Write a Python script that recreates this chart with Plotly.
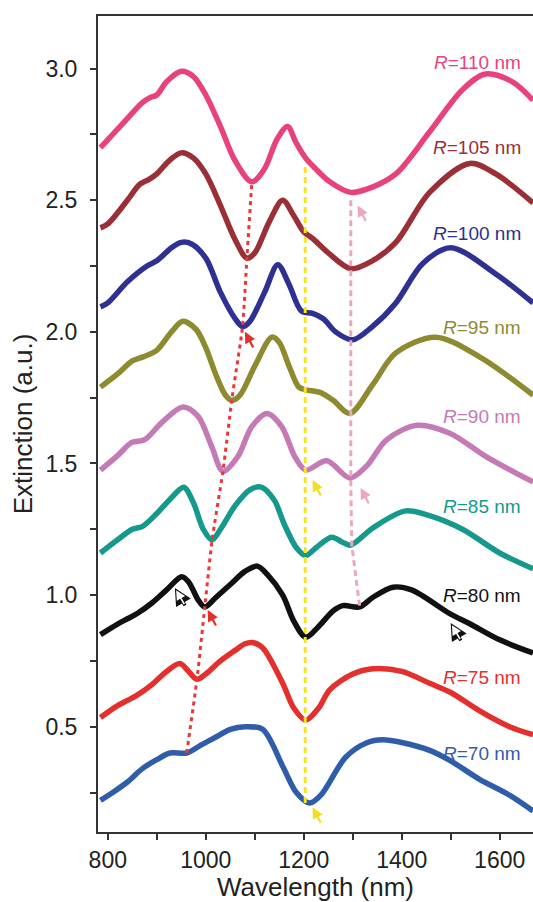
import plotly.graph_objects as go

# ---------------- data ----------------
labels = ["R=110 nm", "R=105 nm", "R=100 nm", "R=95 nm", "R=90 nm",
          "R=85 nm", "R=80 nm", "R=75 nm", "R=70 nm"]
colors = ["#E8427E", "#9A2F36", "#2E3192", "#8E8A30", "#C47AB5",
          "#14998C", "#111111", "#E4302D", "#2F5DAA"]

wl_110 = [785, 830, 870, 886, 900, 920, 950, 975, 1000, 1030, 1060, 1094, 1120, 1145, 1167, 1184, 1204, 1224, 1253, 1296, 1340, 1388, 1457, 1524, 1571, 1626, 1668]
ex_110 = [2.70, 2.79, 2.87, 2.89, 2.90, 2.95, 2.99, 2.97, 2.90, 2.78, 2.65, 2.57, 2.62, 2.73, 2.78, 2.72, 2.66, 2.62, 2.57, 2.53, 2.55, 2.60, 2.76, 2.92, 2.98, 2.95, 2.88]

wl_105 = [785, 800, 840, 865, 885, 900, 925, 950, 975, 1000, 1030, 1060, 1084, 1100, 1130, 1157, 1180, 1200, 1218, 1250, 1296, 1340, 1388, 1457, 1539, 1592, 1668]
ex_105 = [2.395, 2.41, 2.50, 2.56, 2.58, 2.60, 2.65, 2.68, 2.66, 2.60, 2.48, 2.35, 2.28, 2.30, 2.42, 2.50, 2.44, 2.38, 2.355, 2.30, 2.24, 2.27, 2.34, 2.53, 2.64, 2.60, 2.49]

wl_100 = [785, 800, 840, 880, 900, 930, 950, 970, 1000, 1030, 1060, 1075, 1090, 1120, 1147, 1170, 1195, 1218, 1240, 1265, 1300, 1340, 1388, 1443, 1500, 1592, 1668]
ex_100 = [2.095, 2.11, 2.19, 2.25, 2.27, 2.32, 2.34, 2.335, 2.28, 2.15, 2.05, 2.02, 2.04, 2.15, 2.255, 2.18, 2.08, 2.07, 2.05, 2.00, 1.97, 2.02, 2.11, 2.26, 2.32, 2.22, 2.11]

wl_95 = [785, 820, 850, 872, 900, 930, 953, 980, 1000, 1020, 1040, 1053, 1070, 1100, 1135, 1150, 1170, 1190, 1205, 1233, 1260, 1294, 1341, 1388, 1469, 1559, 1668]
ex_95 = [1.79, 1.84, 1.89, 1.905, 1.93, 2.00, 2.04, 2.01, 1.94, 1.84, 1.76, 1.74, 1.76, 1.87, 1.98, 1.96, 1.87, 1.79, 1.78, 1.77, 1.74, 1.69, 1.80, 1.92, 1.98, 1.905, 1.76]

wl_90 = [785, 820, 849, 875, 910, 953, 984, 1012, 1035, 1065, 1094, 1125, 1155, 1182, 1204, 1247, 1294, 1328, 1369, 1431, 1498, 1573, 1668]
ex_90 = [1.475, 1.53, 1.58, 1.59, 1.655, 1.715, 1.68, 1.565, 1.47, 1.525, 1.64, 1.69, 1.64, 1.525, 1.475, 1.51, 1.445, 1.49, 1.59, 1.645, 1.615, 1.525, 1.43]

wl_85 = [785, 820, 850, 870, 900, 930, 955, 975, 995, 1013, 1030, 1060, 1090, 1113, 1140, 1160, 1185, 1204, 1225, 1257, 1280, 1296, 1341, 1408, 1460, 1524, 1600, 1668]
ex_85 = [1.16, 1.21, 1.25, 1.26, 1.31, 1.37, 1.41, 1.35, 1.25, 1.21, 1.25, 1.34, 1.40, 1.41, 1.36, 1.27, 1.18, 1.15, 1.18, 1.22, 1.20, 1.19, 1.255, 1.32, 1.30, 1.25, 1.16, 1.10]

wl_80 = [785, 820, 840, 860, 890, 920, 951, 965, 985, 998, 1020, 1050, 1080, 1105, 1125, 1157, 1180, 1204, 1230, 1260, 1280, 1314, 1340, 1382, 1420, 1498, 1540, 1600, 1668]
ex_80 = [0.85, 0.89, 0.91, 0.93, 0.97, 1.02, 1.07, 1.05, 0.98, 0.955, 0.99, 1.04, 1.09, 1.11, 1.08, 1.00, 0.90, 0.84, 0.88, 0.94, 0.96, 0.955, 0.99, 1.03, 1.02, 0.93, 0.89, 0.83, 0.78]

wl_75 = [785, 820, 840, 860, 890, 920, 947, 965, 982, 1000, 1030, 1060, 1080, 1095, 1116, 1157, 1180, 1204, 1230, 1253, 1300, 1341, 1400, 1457, 1500, 1559, 1620, 1668]
ex_75 = [0.535, 0.58, 0.60, 0.62, 0.66, 0.71, 0.74, 0.71, 0.68, 0.70, 0.75, 0.79, 0.815, 0.82, 0.80, 0.665, 0.57, 0.525, 0.57, 0.64, 0.70, 0.72, 0.71, 0.665, 0.63, 0.56, 0.50, 0.47]

wl_70 = [785, 810, 840, 870, 900, 927, 961, 990, 1020, 1050, 1080, 1116, 1157, 1185, 1212, 1235, 1286, 1330, 1361, 1400, 1457, 1500, 1559, 1620, 1668]
ex_70 = [0.22, 0.25, 0.29, 0.34, 0.375, 0.40, 0.40, 0.43, 0.46, 0.49, 0.50, 0.49, 0.35, 0.25, 0.21, 0.24, 0.385, 0.44, 0.45, 0.44, 0.41, 0.37, 0.30, 0.24, 0.18]

series_wl = [wl_110, wl_105, wl_100, wl_95, wl_90, wl_85, wl_80, wl_75, wl_70]
series_ex = [ex_110, ex_105, ex_100, ex_95, ex_90, ex_85, ex_80, ex_75, ex_70]

# guide lines through the resonance dips
red_wl = [961, 982, 998, 1013, 1035, 1053, 1075, 1084, 1094]
red_ex = [0.40, 0.68, 0.955, 1.21, 1.47, 1.74, 2.02, 2.28, 2.57]
yel_wl = [1203, 1203]
yel_ex = [0.21, 2.64]
pink_wl = [1296, 1296, 1298, 1314]
pink_ex = [2.50, 1.44, 1.19, 0.96]

# label anchor positions (right edge) in data coords
label_x = 1647
label_y = [3.023, 2.70, 2.373, 2.015, 1.677, 1.335, 1.0, 0.688, 0.40]

x_ticks = [800, 1000, 1200, 1400, 1600]
y_ticks = [0.5, 1.0, 1.5, 2.0, 2.5, 3.0]

# arrows: (head_x, head_y, color, hollow)  -- tail offset down-right in pixels
arrows = [
    (1080, 2.00, "#E4302D", False),
    (1004, 0.943, "#E4302D", False),
    (1310, 2.48, "#EDA7BD", False),
    (1218, 1.437, "#F2DF1E", False),
    (1316, 1.407, "#EDA7BD", False),
    (1218, 0.194, "#F2DF1E", False),
    (937, 1.027, "#111111", True),
    (1500, 0.894, "#111111", True),
]

# ---------------- figure ----------------
fig = go.Figure()
for wl, ex, c, name in zip(series_wl, series_ex, colors, labels):
    fig.add_trace(go.Scatter(x=wl, y=ex, mode="lines", name=name,
                             line=dict(color=c, width=5.5, shape="spline", smoothing=0.9),
                             showlegend=False))

fig.add_trace(go.Scatter(x=red_wl, y=red_ex, mode="lines", showlegend=False,
                         line=dict(color="#E8383A", width=3, dash="4px,4px", shape="spline", smoothing=0.6)))
fig.add_trace(go.Scatter(x=yel_wl, y=yel_ex, mode="lines", showlegend=False,
                         line=dict(color="#F5E52A", width=3, dash="6px,4px")))
fig.add_trace(go.Scatter(x=pink_wl, y=pink_ex, mode="lines", showlegend=False,
                         line=dict(color="#EDA7BD", width=3, dash="6px,4px")))

annotations = []
for name, c, yy in zip(labels, colors, label_y):
    txt = "<i>R</i>" + name[1:]
    annotations.append(dict(x=label_x, y=yy, xref="x", yref="y", text=txt,
                            showarrow=False, xanchor="right", yanchor="middle",
                            font=dict(family="Liberation Sans, Arial", size=19, color=c)))

for hx, hy, c, hollow in arrows:
    if hollow:
        annotations.append(dict(x=hx, y=hy, ax=11, ay=19, xref="x", yref="y",
                                text="", showarrow=True,
                                arrowhead=2, arrowsize=1.0, arrowwidth=3.4, arrowcolor="#111111"))
        annotations.append(dict(x=hx, y=hy, ax=11, ay=19, xref="x", yref="y",
                                text="", showarrow=True,
                                arrowhead=2, arrowsize=1.2, arrowwidth=1.6, arrowcolor="white",
                                standoff=2.5, startstandoff=1.5))
    else:
        annotations.append(dict(x=hx, y=hy, ax=9, ay=17, xref="x", yref="y",
                                text="", showarrow=True,
                                arrowhead=2, arrowsize=1.0, arrowwidth=2.2, arrowcolor=c))

axis_font = dict(family="Liberation Sans, Arial", size=23, color="#222222")
fig.update_layout(
    width=533, height=902,
    margin=dict(l=98, r=0, t=16, b=70),
    paper_bgcolor="white", plot_bgcolor="white",
    annotations=annotations,
    font=dict(family="Liberation Sans, Arial", color="#222222"),
)
fig.update_xaxes(
    range=[780, 1668], tickmode="array", tickvals=x_ticks,
    ticks="outside", ticklen=6, tickwidth=1.5, tickcolor="#333333",
    minor=dict(tickmode="array", tickvals=[900, 1100, 1300, 1500], ticks="outside",
               ticklen=6, tickwidth=1.5, tickcolor="#333333"),
    showline=True, linecolor="#333333", linewidth=2, mirror=True,
    showgrid=False, zeroline=False, tickfont=axis_font,
    title=dict(text="Wavelength (nm)", font=dict(family="Liberation Sans, Arial", size=26, color="#222222"), standoff=4),
)
fig.update_yaxes(
    range=[0.10, 3.20], tickmode="array", tickvals=y_ticks,
    ticktext=["0.5", "1.0", "1.5", "2.0", "2.5", "3.0"],
    ticks="outside", ticklen=6, tickwidth=1.5, tickcolor="#333333",
    minor=dict(tickmode="array", tickvals=[0.25, 0.75, 1.25, 1.75, 2.25, 2.75], ticks="outside",
               ticklen=6, tickwidth=1.5, tickcolor="#333333"),
    showline=True, linecolor="#333333", linewidth=2,
    showgrid=False, zeroline=False, tickfont=axis_font, ticklabelstandoff=8,
    title=dict(text="Extinction (a.u.)", font=dict(family="Liberation Sans, Arial", size=26, color="#222222"), standoff=5),
)

fig.write_html("out.html", config={"displayModeBar": False},
               post_script="document.body.style.margin='0';document.body.style.overflow='hidden';")
